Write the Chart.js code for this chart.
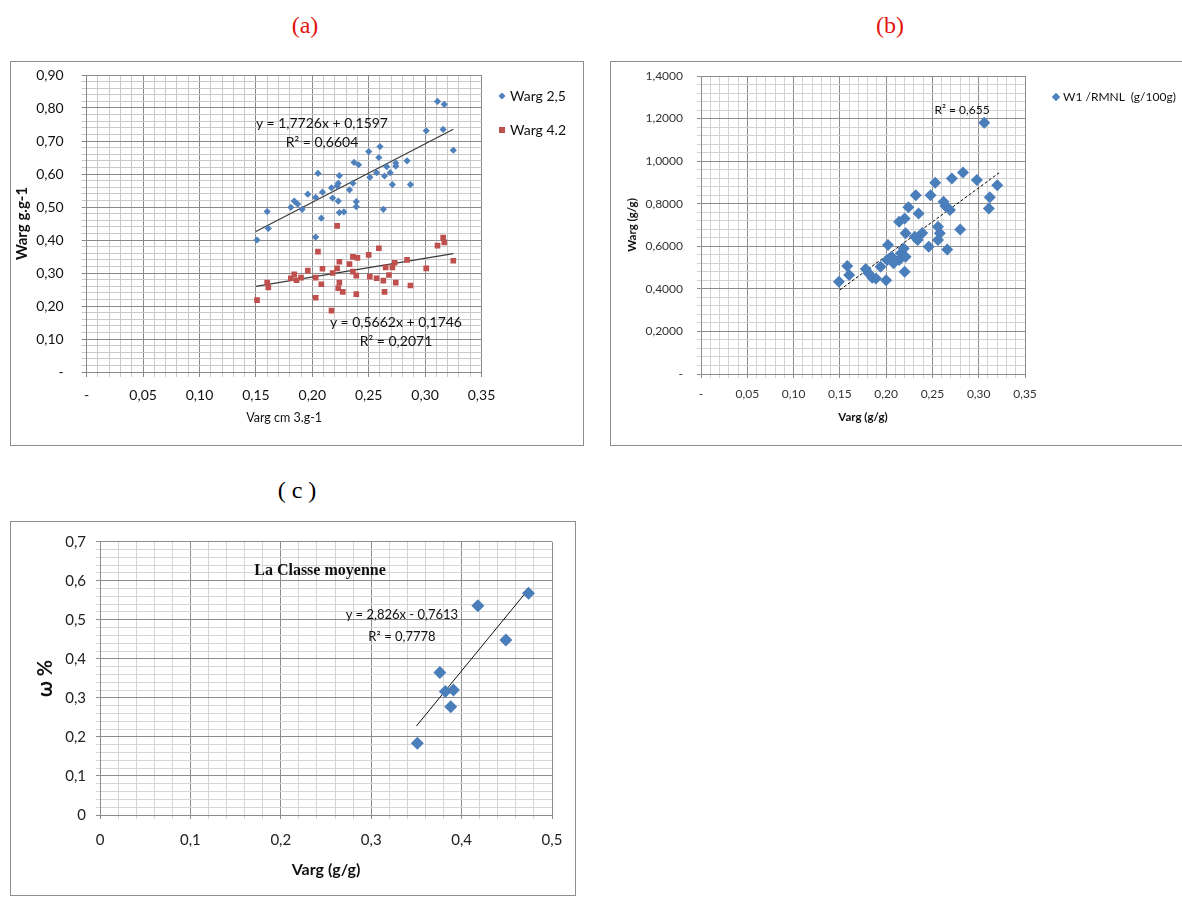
<!DOCTYPE html>
<html lang="fr">
<head>
<meta charset="UTF-8">
<title>Warg / Varg</title>
<script src="https://cdn.jsdelivr.net/npm/chart.js"></script>
<style>
  body { margin: 0; background: #fff; width: 1182px; height: 903px; position: relative; overflow: hidden; font-family: Lato, sans-serif; }
  .panel { position: absolute; border: 1px solid #8e8e8e; background: #fff; }
  .panel canvas { position: absolute; left: 0; top: 0; }
  .lbl { position: absolute; white-space: pre; transform: translate(-50%, -50%); line-height: 1; color: #111; }
  .left { transform: translate(0, -50%); }
  .tag { position: absolute; font-family: "Liberation Serif", serif; font-size: 24px; transform: translate(-50%, -50%); line-height: 1; }
  .mk { position: absolute; transform: translate(-50%, -50%) rotate(45deg); }
  .sq { position: absolute; transform: translate(-50%, -50%); }
</style>
</head>
<body>
  <div class="tag" style="left:305px; top:25px; color:#e3140e">(a)</div>
  <div class="tag" style="left:890px; top:25px; color:#e3140e">(b)</div>
  <div class="tag" style="left:297px; top:490px; color:#000">( c )</div>

  <div class="panel" style="left:10px; top:61px; width:572px; height:383px"><canvas id="chartA" width="572" height="383"></canvas></div>
  <div class="panel" style="left:610px; top:61px; width:571px; height:383px"><canvas id="chartB" width="571" height="383"></canvas></div>
  <div class="panel" style="left:10px; top:521px; width:564px; height:373px"><canvas id="chartC" width="564" height="373"></canvas></div>

  <!-- (a) annotations -->
  <div class="lbl" style="left:322px; top:123px; font-size:14px">y = 1,7726x + 0,1597</div>
  <div class="lbl" style="left:322px; top:142px; font-size:14px">R² = 0,6604</div>
  <div class="lbl" style="left:396px; top:322px; font-size:14px">y = 0,5662x + 0,1746</div>
  <div class="lbl" style="left:396px; top:341px; font-size:14px">R² = 0,2071</div>
  <div class="mk" style="left:502px; top:96px; width:5px; height:5px; background:#4f81bd"></div>
  <div class="lbl left" style="left:510px; top:96px; font-size:14px">Warg 2,5</div>
  <div class="sq" style="left:502px; top:130px; width:6px; height:6px; background:#c0504d"></div>
  <div class="lbl left" style="left:510px; top:130px; font-size:14px">Warg 4.2</div>

  <!-- (b) annotations -->
  <div class="lbl" style="left:962px; top:110px; font-size:12px">R² = 0,655</div>
  <div class="mk" style="left:1056px; top:97px; width:6px; height:6px; background:#4f81bd"></div>
  <div class="lbl left" style="left:1063px; top:97px; font-size:12px">W1 /RMNL  (g/100g)</div>

  <!-- (c) annotations -->
  <div class="lbl" style="left:320px; top:570px; font-size:16px; font-weight:bold; font-family:'Liberation Serif', serif">La Classe moyenne</div>
  <div class="lbl" style="left:402px; top:614px; font-size:13px">y = 2,826x - 0,7613</div>
  <div class="lbl" style="left:402px; top:636px; font-size:13px">R² = 0,7778</div>

<script>
  // (a) Warg 2,5 et Warg 4.2 en fonction de Varg
  const warg25X = [0.151,0.160,0.161,0.181,0.184,0.187,0.191,0.196,0.203,0.205,0.203,0.208,0.209,0.217,0.218,0.222,0.223,0.224,0.223,0.224,0.228,0.233,0.236,0.237,0.241,0.239,0.239,0.250,0.251,0.259,0.260,0.257,0.263,0.264,0.266,0.269,0.271,0.274,0.274,0.284,0.287,0.301,0.311,0.317,0.316,0.325];
  const warg25Y = [0.400,0.486,0.435,0.499,0.518,0.509,0.493,0.539,0.529,0.602,0.409,0.466,0.545,0.558,0.527,0.564,0.572,0.595,0.518,0.483,0.485,0.552,0.572,0.635,0.628,0.516,0.501,0.668,0.590,0.650,0.683,0.604,0.493,0.594,0.622,0.604,0.568,0.624,0.633,0.640,0.568,0.731,0.820,0.811,0.735,0.672];
  const warg42X = [0.151,0.160,0.161,0.181,0.184,0.186,0.190,0.196,0.203,0.205,0.203,0.208,0.209,0.217,0.218,0.222,0.222,0.224,0.224,0.223,0.227,0.233,0.236,0.240,0.236,0.239,0.239,0.250,0.251,0.259,0.257,0.263,0.264,0.265,0.268,0.271,0.273,0.274,0.284,0.287,0.301,0.311,0.316,0.317,0.325];
  const warg42Y = [0.218,0.271,0.256,0.284,0.296,0.278,0.286,0.307,0.286,0.365,0.225,0.266,0.313,0.186,0.300,0.314,0.443,0.334,0.271,0.254,0.243,0.327,0.349,0.346,0.304,0.292,0.236,0.355,0.289,0.375,0.284,0.277,0.243,0.317,0.294,0.317,0.331,0.271,0.340,0.262,0.314,0.383,0.407,0.393,0.337];
  const trend25 = [{x: 0.15, y: 0.4256}, {x: 0.325, y: 0.7358}];
  const trend42 = [{x: 0.15, y: 0.2595}, {x: 0.325, y: 0.3586}];

  // (b) W1 /RMNL
  const w1X = [0.149,0.158,0.160,0.178,0.181,0.185,0.189,0.194,0.200,0.202,0.201,0.206,0.208,0.214,0.216,0.219,0.221,0.220,0.214,0.220,0.224,0.221,0.232,0.235,0.231,0.234,0.239,0.246,0.248,0.253,0.262,0.264,0.269,0.256,0.258,0.256,0.266,0.271,0.280,0.283,0.298,0.306,0.312,0.311,0.320];
  const w1Y = [0.433,0.507,0.465,0.493,0.473,0.452,0.449,0.504,0.441,0.606,0.535,0.551,0.520,0.535,0.567,0.590,0.551,0.480,0.715,0.731,0.783,0.661,0.840,0.754,0.645,0.629,0.663,0.598,0.840,0.898,0.809,0.789,0.770,0.692,0.661,0.629,0.585,0.919,0.679,0.947,0.911,1.180,0.830,0.778,0.887];
  const trendW1 = [{x: 0.15, y: 0.395}, {x: 0.322, y: 0.945}];

  // (c) La Classe moyenne
  const moyX = [0.351,0.376,0.382,0.388,0.391,0.418,0.449,0.474];
  const moyY = [0.184,0.365,0.316,0.277,0.320,0.536,0.448,0.568];
  const trendMoy = [{x: 0.35, y: 0.2278}, {x: 0.475, y: 0.5811}];

  const zip = (xs, ys) => xs.map((x, i) => ({x, y: ys[i]}));
  const isMajor = (v, step) => Math.abs(v / step - Math.round(v / step)) < 1e-6;

  function axis(o) {
    return {
      type: 'linear',
      position: o.position,
      min: o.min,
      max: o.max,
      // fixed axis size, and no extra label overflow padding
      afterFit: s => {
        if (o.position === 'left') s.width = o.size; else s.height = o.size;
        s.paddingTop = 0; s.paddingBottom = 0; s.paddingLeft = 0; s.paddingRight = 0;
      },
      border: { color: o.majorColor, width: 1 },
      grid: {
        color: c => isMajor(c.tick.value, o.major) ? o.majorColor : o.minorColor,
        tickLength: o.tick,
        lineWidth: 1
      },
      ticks: {
        stepSize: o.minor,
        autoSkip: false,
        maxRotation: 0,
        padding: o.pad,
        color: o.tickColor || '#111',
        font: { family: 'Lato', size: o.fontSize },
        callback: v => isMajor(v, o.major) ? o.fmt(v) : ''
      },
      title: {
        display: true,
        text: o.title,
        color: '#111',
        font: { family: 'Lato', size: o.titleSize, weight: o.titleWeight || 'bold' },
        padding: o.titlePad
      }
    };
  }

  const comma = (v, d) => v.toFixed(d).replace('.', ',');
  const base = {
    responsive: false,
    animation: false,
    plugins: { legend: { display: false }, tooltip: { enabled: false } }
  };

  // (a)
  new Chart(document.getElementById('chartA'), {
    type: 'scatter',
    data: {
      datasets: [
        { data: zip(warg25X, warg25Y), pointStyle: 'rectRot', pointRadius: 3.6, backgroundColor: '#4f81bd', borderColor: '#4f81bd', borderWidth: 0 },
        { data: zip(warg42X, warg42Y), pointStyle: 'rect', pointRadius: 4, backgroundColor: '#c0504d', borderColor: '#c0504d', borderWidth: 0 },
        { type: 'line', data: trend25, pointRadius: 0, borderColor: '#3a3a3a', borderWidth: 1.2 },
        { type: 'line', data: trend42, pointRadius: 0, borderColor: '#3a3a3a', borderWidth: 1.2 }
      ]
    },
    options: {
      ...base,
      layout: { padding: { left: 0, top: 13, right: 101.5, bottom: 13 } },
      scales: {
        x: axis({ position: 'bottom', min: 0, max: 0.35, major: 0.05, minor: 0.01, size: 60, tick: 5, pad: 10, fontSize: 14,
                  majorColor: '#8a8a8a', minorColor: '#c9c9c9', fmt: v => v === 0 ? '-' : comma(v, 2),
                  title: 'Varg cm 3.g-1', titleSize: 12.5, titleWeight: 'normal', titlePad: { top: 0, bottom: 6.5 } }),
        y: axis({ position: 'left', min: 0, max: 0.9, major: 0.1, minor: 0.02, size: 75.7, tick: 5, pad: 18, fontSize: 14,
                  majorColor: '#8a8a8a', minorColor: '#c9c9c9', fmt: v => v === 0 ? '-' : comma(v, 2),
                  title: 'Warg g.g-1', titleSize: 15, titlePad: { top: 2.5, bottom: 0 } })
      }
    }
  });

  // (b)
  new Chart(document.getElementById('chartB'), {
    type: 'scatter',
    data: {
      datasets: [
        { data: zip(w1X, w1Y), pointStyle: 'rectRot', pointRadius: 6, backgroundColor: '#4a7ebb', borderColor: '#4a7ebb', borderWidth: 0 },
        { type: 'line', data: trendW1, pointRadius: 0, borderColor: '#000', borderWidth: 1, borderDash: [3, 2] }
      ]
    },
    options: {
      ...base,
      layout: { padding: { left: 0, top: 14, right: 157, bottom: 11 } },
      scales: {
        x: axis({ position: 'bottom', min: 0, max: 0.35, major: 0.05, minor: 0.01, size: 60, tick: 4, pad: 9, fontSize: 12, tickColor: '#333',
                  majorColor: '#8c8c8c', minorColor: '#d2d2d2', fmt: v => v === 0 ? '-' : comma(v, 2),
                  title: 'Varg (g/g)', titleSize: 11.5, titlePad: { top: 0, bottom: 9.4 } }),
        y: axis({ position: 'left', min: 0, max: 1.4, major: 0.2, minor: 0.04, size: 90, tick: 4, pad: 14, fontSize: 12, tickColor: '#333',
                  majorColor: '#8c8c8c', minorColor: '#d2d2d2', fmt: v => v === 0 ? '-' : comma(v, 4),
                  title: 'Warg (g/g)', titleSize: 11.5, titlePad: { top: 14.4, bottom: 0 } })
      }
    }
  });

  // (c)
  new Chart(document.getElementById('chartC'), {
    type: 'scatter',
    data: {
      datasets: [
        { data: zip(moyX, moyY), pointStyle: 'rectRot', pointRadius: 6.5, backgroundColor: '#4a7ebb', borderColor: '#4a7ebb', borderWidth: 0 },
        { type: 'line', data: trendMoy, pointRadius: 0, borderColor: '#111', borderWidth: 1 }
      ]
    },
    options: {
      ...base,
      layout: { padding: { left: 0, top: 19.7, right: 23, bottom: 10 } },
      scales: {
        x: axis({ position: 'bottom', min: 0, max: 0.5, major: 0.1, minor: 0.02, size: 70, tick: 4, pad: 12, fontSize: 15, tickColor: '#222',
                  majorColor: '#8c8c8c', minorColor: '#d6d6d6', fmt: v => v === 0 ? '0' : comma(v, 1),
                  title: 'Varg (g/g)', titleSize: 16, titlePad: { top: 0, bottom: 5.4 } }),
        y: axis({ position: 'left', min: 0, max: 0.7, major: 0.1, minor: 0.02, size: 89, tick: 4, pad: 10, fontSize: 15, tickColor: '#222',
                  majorColor: '#8c8c8c', minorColor: '#d6d6d6', fmt: v => v === 0 ? '0' : comma(v, 1),
                  title: 'ω %', titleSize: 20, titlePad: { top: 22.5, bottom: 0 } })
      }
    }
  });
</script>
</body>
</html>
